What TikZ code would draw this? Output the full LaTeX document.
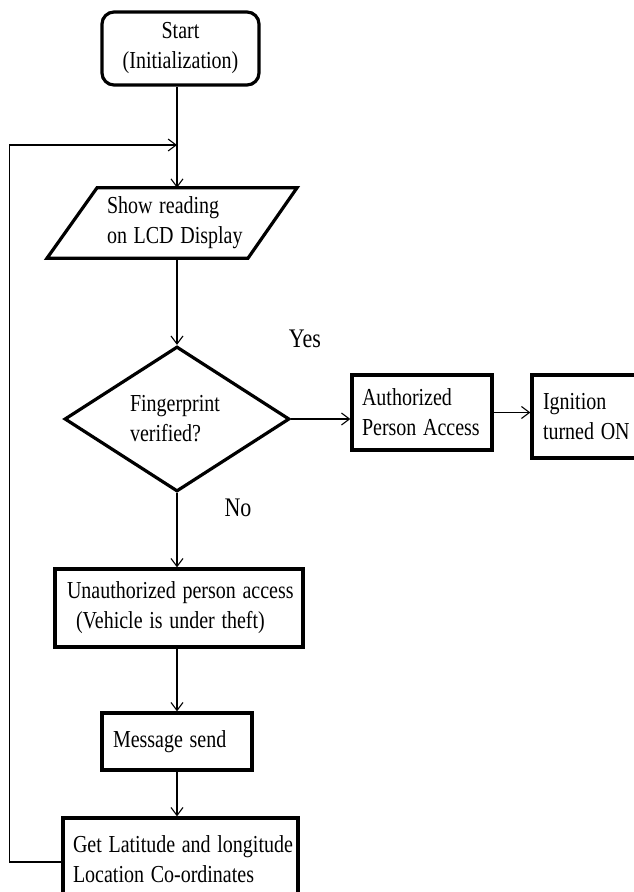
\documentclass[tikz,border=0pt]{standalone}
\usepackage{fontspec}
\setmainfont{Liberation Serif}
\usetikzlibrary{shapes.geometric,arrows.meta}
\newcommand{\tl}[1]{\scalebox{1}[1.22]{#1}}
\begin{document}
\begin{tikzpicture}[x=1pt,y=-1pt,
  box/.style={draw,line width=3.2pt,inner ysep=0pt,align=left,font=\fontsize{20}{30}\selectfont},
  txt/.style={inner sep=0pt,align=left,font=\fontsize{20}{30}\selectfont},
  border/.style={line width=3.2pt,line join=miter},
  conn/.style={line width=1.5pt,-{Straight Barb[length=8pt,width=12pt,line width=1.1pt]}},
  lab/.style={inner sep=0pt,font=\fontsize{22}{26}\selectfont}]
\useasboundingbox (0,0) rectangle (634,892);
\coordinate (join) at (177,145);
% start
\node[box,rounded corners=12pt,align=center,minimum width=157pt,minimum height=73pt] (start) at (180.5,48.5) {\raisebox{-3pt}{\tl{Start}}\\\raisebox{-3pt}{\tl{(Initialization)}}};
% parallelogram
\node[txt,text width=130pt,minimum width=200pt,minimum height=70pt] (para) at (172,223) {\tl{Show reading}\\\tl{on LCD Display}};
\draw[border] ([xshift=-75pt]para.north) -- ([xshift=125pt]para.north) -- ([xshift=76pt]para.south) -- ([xshift=-125pt]para.south) -- cycle;
% decision
\node[box,diamond,minimum width=225pt,minimum height=145pt,inner sep=0pt,aspect=1.55,text width=94pt] (dia) at (177,419) {\tl{Fingerprint}\\\tl{verified?}};
% right branch
\node[box,minimum width=140pt,minimum height=75pt,text width=120pt,inner xsep=10pt] (auth) at (422,412.5) {\tl{Authorized}\\\tl{Person Access}};
\node[box,minimum height=83pt,text width=96pt,inner xsep=11pt] (ign) at (591,416.5) {\tl{Ignition}\\\tl{turned ON}};
% lower boxes
\node[box,minimum height=78pt,text width=224pt,inner xsep=12pt] (unauth) at (179,608) {\tl{Unauthorized person access}\\\hspace*{9pt}\tl{(Vehicle is under theft)}};
\node[box,minimum height=57pt,text width=128pt,inner xsep=11pt] (msg) at (177,741.5) {\raisebox{5pt}{\tl{Message send}}};
\node[box,minimum height=88pt,text width=215pt,inner xsep=10pt] (get) at (180.5,862) {\raisebox{5pt}{\tl{Get Latitude and longitude}}\\\raisebox{5pt}{\tl{Location Co-ordinates}}};
% labels
\node[lab] (yes) at (305,339) {\tl{Yes}};
\node[lab] (no) at (238,508) {\tl{No}};
% connectors
\draw[conn] (start.south -| join) -- (para.north -| join);
\draw[conn] (para.south -| join) -- (dia.north);
\draw[conn] (dia.south) -- (unauth.north -| dia.south);
\draw[conn] (unauth.south -| join) -- (msg.north -| join);
\draw[conn] (msg.south -| join) -- (get.north -| join);
\draw[conn] (dia.east) -- (dia.east -| auth.west);
\draw[conn] (auth.east) -- (auth.east -| ign.west);
\draw[conn] (get.west) -- ++(-52,0) |- (join);
\end{tikzpicture}
\end{document}
